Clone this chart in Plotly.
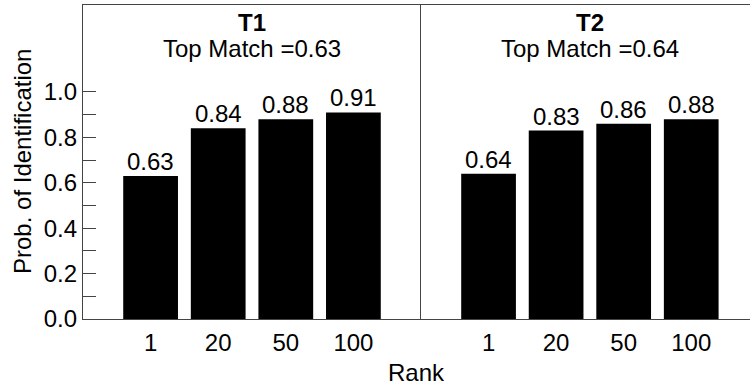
import plotly.graph_objects as go

ranks = ["1", "20", "50", "100"]
t1_vals = [0.63, 0.84, 0.88, 0.91]
t2_vals = [0.64, 0.83, 0.86, 0.88]
panel_names = ["T1", "T2"]
top_match = [0.63, 0.64]
y_tickvals = [0.0, 0.1, 0.2, 0.3, 0.4, 0.5, 0.6, 0.7, 0.8, 0.9, 1.0]
y_ticktext = ["0.0", "", "0.2", "", "0.4", "", "0.6", "", "0.8", "", "1.0"]

FONT = "Liberation Sans, Arial, Helvetica, sans-serif"
FS = 24
LINE = "#444444"

fig = go.Figure()
annos = []
for i, vals in enumerate([t1_vals, t2_vals]):
    xa = "x" if i == 0 else "x2"
    ya = "y" if i == 0 else "y2"
    fig.add_trace(go.Bar(
        x=ranks, y=vals, xaxis=xa, yaxis=ya,
        marker=dict(color="black", line=dict(width=0)),
        showlegend=False, hoverinfo="skip",
    ))
    for k, v in enumerate(vals):
        annos.append(dict(text=f"{v:.2f}", x=k, y=v, xref=xa, yref=ya,
                          xanchor="center", yanchor="bottom", yshift=-1,
                          showarrow=False, font=dict(family=FONT, size=FS, color="black")))

split = 338 / 667
xr1 = [-1, 4]
xr2 = [-1, 3.87]
ax_common = dict(
    type="category", showgrid=False, zeroline=False, automargin=False,
    showline=True, mirror=True, linecolor=LINE, linewidth=1.3,
    ticks="", tickfont=dict(family=FONT, size=FS, color="black"),
    ticklabelstandoff=2,
)
fig.update_layout(
    width=750, height=389,
    margin=dict(l=83, r=0, t=5, b=70),
    paper_bgcolor="white", plot_bgcolor="white",
    bargap=0.19,
    xaxis=dict(domain=[0, split], range=xr1, anchor="y", **ax_common),
    xaxis2=dict(domain=[split, 1], range=xr2, anchor="y2", **ax_common),
    yaxis=dict(
        range=[0, 1.383], showgrid=False, zeroline=False, automargin=False,
        showline=True, mirror=False, linecolor=LINE, linewidth=1.3,
        tickvals=y_tickvals, ticktext=y_ticktext,
        ticks="inside", ticklen=13, tickwidth=1.3, tickcolor=LINE,
        tickfont=dict(family=FONT, size=FS, color="black"),
        anchor="x",
    ),
    yaxis2=dict(
        range=[0, 1.383], showgrid=False, zeroline=False, automargin=False,
        showline=True, mirror=False, linecolor=LINE, linewidth=1.3,
        showticklabels=False, ticks="", anchor="x2", side="left",
    ),
    font=dict(family=FONT, size=FS, color="black"),
)

for i, (name, tm) in enumerate(zip(panel_names, top_match)):
    xr = xr1 if i == 0 else xr2
    xd = (1.5 - xr[0]) / (xr[1] - xr[0])
    xref = "x domain" if i == 0 else "x2 domain"
    annos.append(dict(text=f"<b>{name}</b>", xref=xref, yref="paper", x=xd, y=1,
                      yshift=-17, xanchor="center", yanchor="middle", showarrow=False,
                      font=dict(family=FONT, size=FS, color="black")))
    annos.append(dict(text=f"Top Match ={tm:.2f}", xref=xref, yref="paper", x=xd, y=1,
                      yshift=-43, xanchor="center", yanchor="middle", showarrow=False,
                      font=dict(family=FONT, size=FS, color="black")))
annos.append(dict(text="Rank", xref="paper", yref="paper", x=0.5, y=0, yshift=-53,
                  xanchor="center", yanchor="middle", showarrow=False,
                  font=dict(family=FONT, size=FS, color="black")))
annos.append(dict(text="Prob. of Identification", xref="paper", yref="paper",
                  x=0, xshift=-61, y=0.5, textangle=-90, xanchor="center", yanchor="middle",
                  showarrow=False, font=dict(family=FONT, size=FS, color="black")))
fig.update_layout(annotations=annos)

fig.write_html("out.html", config={"displayModeBar": False},
               post_script="document.body.style.margin='0';document.body.style.overflow='hidden';")
